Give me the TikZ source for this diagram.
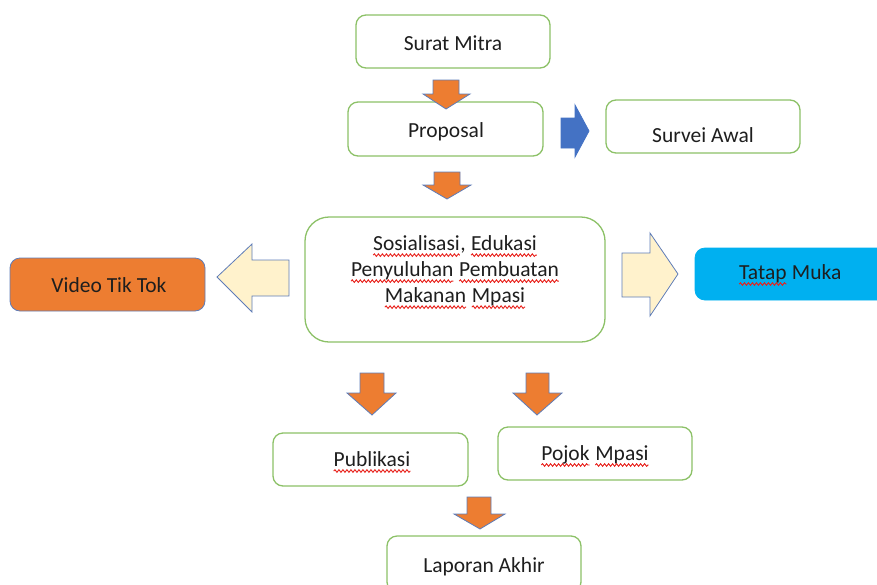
\documentclass[tikz,border=0pt]{standalone}
\usepackage{fontspec}
\setmainfont{Carlito}
\usetikzlibrary{decorations.pathmorphing}
\definecolor{boxgreen}{HTML}{8CC167}
\definecolor{orangefill}{HTML}{ED7D31}
\definecolor{bluefill}{HTML}{4472C4}
\definecolor{creamfill}{HTML}{FFF2CC}
\definecolor{arrowedge}{HTML}{5E7CB8}
\definecolor{cyanfill}{HTML}{00B0F0}
\definecolor{txt}{HTML}{1E1E1E}
\definecolor{wavecol}{HTML}{E8201A}
\newcommand\wv[1]{\tikz[baseline=(wvw.base)]{\node[inner sep=0pt,outer sep=0pt](wvw){#1};\draw[wavecol,line width=0.9pt,decorate,decoration={snake,amplitude=1.3pt,segment length=4pt}]([yshift=-5pt]wvw.base west)--([yshift=-5pt]wvw.base east);}}
\tikzset{
  gbox/.style={draw=boxgreen,line width=1.3pt,fill=white,rounded corners=10pt},
  obox/.style={draw=arrowedge,line width=0.8pt,fill=orangefill,rounded corners=10pt},
  cbox/.style={draw=cyanfill,line width=0.8pt,fill=cyanfill,rounded corners=10pt},
  lbl/.style={anchor=base,inner sep=0pt,text=txt,font=\fontsize{21.5}{26}\selectfont},
  oarrow/.style={draw=arrowedge,line width=0.8pt,fill=orangefill,line join=miter},
  barrow/.style={draw=bluefill,line width=0.8pt,fill=bluefill},
  carrow/.style={draw=arrowedge,line width=0.8pt,fill=creamfill}
}
\begin{document}
\begin{tikzpicture}[x=1pt,y=-1pt]
\useasboundingbox (0,0) rectangle (877,584);
% boxes
\draw[gbox] (356,15) rectangle (550,68);
\draw[gbox] (348,102) rectangle (543,156);
\draw[gbox] (606,100) rectangle (800,153);
\draw[gbox,rounded corners=24pt] (305,217) rectangle (605,342);
\draw[obox] (10,258) rectangle (205,311);
\draw[cbox] (695,248) rectangle (895,300);
\draw[gbox] (273,433) rectangle (468,486);
\draw[gbox] (498,427) rectangle (692,480);
\draw[gbox] (387,536) rectangle (581,592);
% texts
\node[lbl] (surat) at (453,50) {Surat Mitra};
\node[lbl] (proposal) at (446,137) {Proposal};
\node[lbl] (survei) at (703,142) {Survei Awal};
\node[lbl,align=center,anchor=north] (sosial) at (455,235) {\wv{Sosialisasi}, \wv{Edukasi}\\ \wv{Penyuluhan} \wv{Pembuatan}\\ \wv{Makanan} \wv{Mpasi}};
\node[lbl] (video) at (109,292) {Video Tik Tok};
\node[lbl] (tatap) at (790,279) {\wv{Tatap} Muka};
\node[lbl] (publikasi) at (372,466) {\wv{Publikasi}};
\node[lbl] (pojok) at (595,460) {\wv{Pojok} \wv{Mpasi}};
\node[lbl] (laporan) at (484,572) {Laporan Akhir};
% block arrows
\draw[oarrow] (433,80) -- (459,80) -- (459,94) -- (470,94) -- (446,109) -- (423,94) -- (433,94) -- cycle;
\draw[oarrow] (434,172) -- (460,172) -- (460,185) -- (471,185) -- (447,199) -- (423,185) -- (434,185) -- cycle;
\draw[oarrow] (360,373) -- (384,373) -- (384,393) -- (396,393) -- (372,415) -- (347,393) -- (360,393) -- cycle;
\draw[oarrow] (526,373) -- (549,373) -- (549,393) -- (562,393) -- (537,415) -- (513,393) -- (526,393) -- cycle;
\draw[oarrow] (467,497) -- (491,497) -- (491,514) -- (505,514) -- (480,529) -- (454,514) -- (467,514) -- cycle;
\draw[barrow] (561,118) -- (575,118) -- (575,105) -- (589,131) -- (575,157) -- (575,148) -- (561,148) -- cycle;
\draw[carrow] (289,260) -- (252,260) -- (252,244) -- (217,277) -- (252,312) -- (252,296) -- (289,296) -- cycle;
\draw[carrow] (622,253) -- (650,253) -- (650,233) -- (678,274) -- (650,316) -- (650,297) -- (622,297) -- cycle;
\end{tikzpicture}
\end{document}
